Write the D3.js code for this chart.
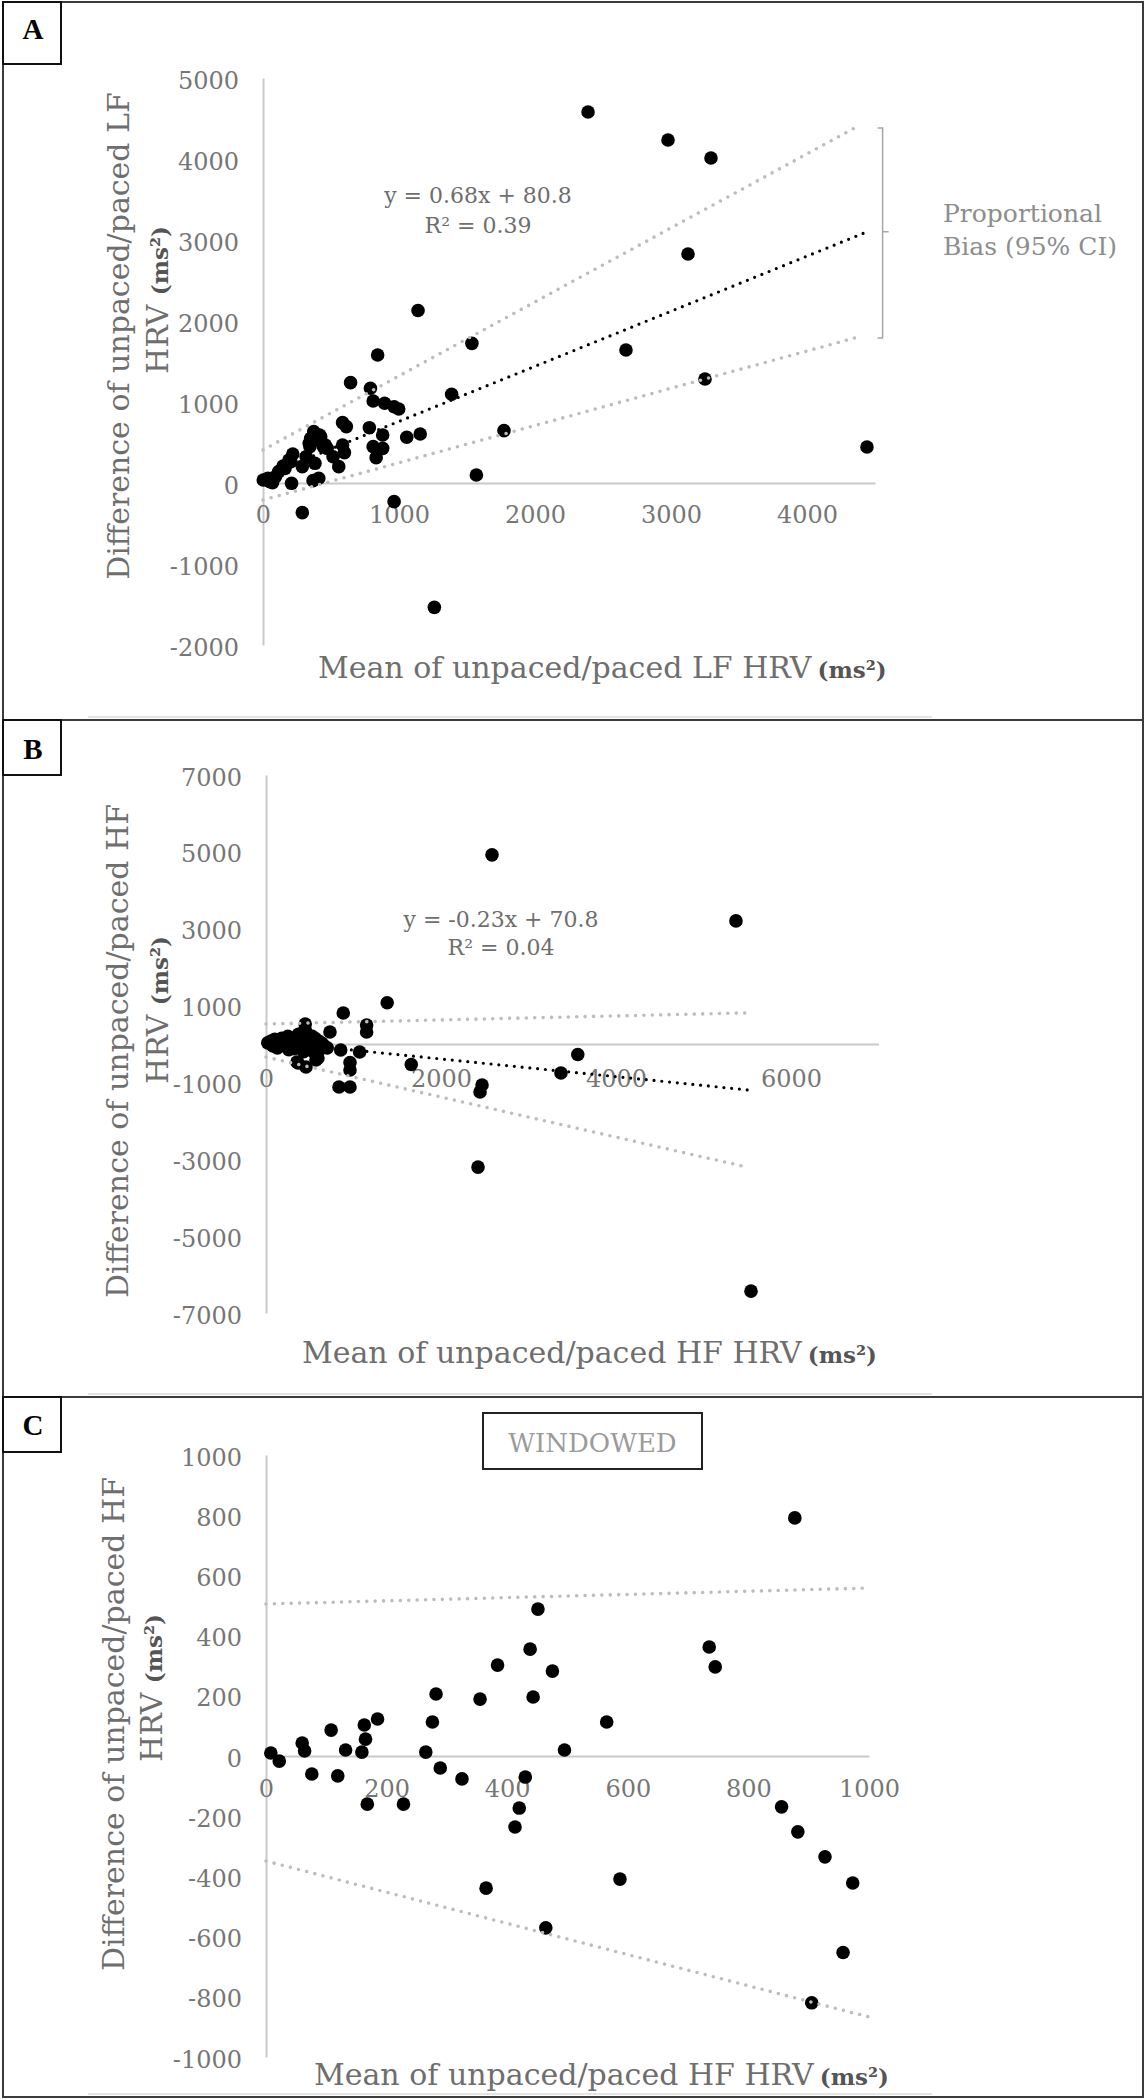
<!DOCTYPE html>
<html>
<head>
<meta charset="utf-8">
<script src="https://cdn.jsdelivr.net/npm/d3@7"></script>
<style>
	html, body { margin: 0; padding: 0; background: #fff; }
	svg { display: block; font-family: 'DejaVu Serif', serif; }
	.tick text { fill: #767676; font-size: 24px; font-family: 'DejaVu Serif', serif; }
	.domain { stroke: #c9c9c9; stroke-width: 2; }
	.title { fill: #6e6e6e; font-size: 30px; }
	.unit { fill: #555; font-size: 23px; font-weight: bold; }
</style>
</head>
<body>
<div id="chart"></div>
<script>
// ---- panel A : LF HRV (unpaced vs paced)
const lfMean = [1536, 843, 644, 790, 810, 894, 964, 998, 1387, 585, 613, 782, 880, 1057, 1156, 373, 351, 402, 345, 444,
	585, 599, 515, 557, 810, 880, 832, 219, 191, 148, 289, 382, 115, 36, 2, 70, 210, 368, 410, 289,
	964, 1260, 1569, 1772, 1140, 2390, 2978, 3294, 3125, 2669, 3250, 4441, 317, 416, 472, 205, 162, 92, 50, 424, 458, 340];
const lfDiff = [1724, 1580, 1239, 1169, 1012, 984, 942, 914, 1095, 745, 696, 683, 593, 564, 605, 634, 552, 531, 449, 449,
	469, 375, 325, 202, 449, 428, 313, 358, 284, 210, 202, 243, 140, 58, 37, 4, -4, 29, 58, -366,
	-230, -1535, 99, 646, 2130, 4580, 4235, 4012, 2827, 1642, 1284, 444, 325, 593, 428, 264, 181, 78, 17, 572, 469, 490];
const lfTrend = [0.68, 80.8];
const lfUpper = [[0, 408], [4350, 4383]];
const lfLower = [[0, -210], [4350, 1790]];
const lfXTicks = [0, 1000, 2000, 3000, 4000];
const lfYTicks = [-2000, -1000, 0, 1000, 2000, 3000, 4000, 5000];

// ---- panel B : HF HRV
const hfMean = [2583, 5371, 5543, 2423, 2469, 2446, 3371, 3563, 1385, 883, 731, 1150, 1150, 1660, 854, 1070, 960, 834, 960, 960,
	448, 594, 366, 571, 457, 354, 20, 60, 100, 150, 180, 220, 250, 300, 330, 370, 400, 420, 450, 480,
	520, 560, 600, 640, 80, 130, 200, 260, 320, 380, 430, 500, 560, 610, 660, 700];
const hfDiff = [4922, 3203, -6432, -3203, -1068, -1250, -755, -273, 1073, 807, 312, 312, 495, -534, -156, -208, -480, -1120, -1120, -677,
	521, -365, -495, -417, -599, -469, 30, 80, 120, 60, 150, 100, 200, 150, 50, 250, 180, 300, 350, 100,
	210, 150, 80, 20, -50, -100, -30, -150, -120, -60, -200, -80, -250, -150, -40, -100];
const hfTrend = [-0.23, 70.8];
const hfUpper = [[0, 521], [5480, 809]];
const hfLower = [[0, -339], [5480, -3194]];
const hfXTicks = [0, 2000, 4000, 6000];
const hfYTicks = [-7000, -5000, -3000, -1000, 1000, 3000, 5000, 7000];

// ---- panel C : HF HRV, windowed
const winMean = [451, 438, 384, 475, 877, 735, 745, 8, 22, 60, 64, 76, 108, 119, 132, 159, 163, 165, 185, 168,
	228, 265, 276, 282, 289, 325, 355, 430, 443, 420, 413, 365, 464, 495, 565, 587, 855, 882, 927, 973, 957, 905];
const winDiff = [488, 355, 302, 282, 791, 362, 296, 10, -17, 43, 17, -60, 86, -66, 20, 13, 103, 56, 123, -160,
	-160, 13, 113, 206, -40, -76, 189, -70, 196, -173, -236, -439, -571, 20, 113, -409, -169, -252, -335, -422, -653, -820];
const winUpper = [[0, 505], [1000, 558]];
const winLower = [[0, -349], [1000, -867]];
const winXTicks = [0, 200, 400, 600, 800, 1000];
const winYTicks = [-1000, -800, -600, -400, -200, 0, 200, 400, 600, 800, 1000];

const panels = [
	{
		id: 'A', top: 2, bottom: 720, letterY: 39, boxH: 62,
		mean: lfMean, diff: lfDiff, trend: lfTrend, upper: lfUpper, lower: lfLower,
		xDomain: [0, 4500], xRange: [263, 875], yDomain: [-2000, 5000], yRange: [645, 78],
		xTicks: lfXTicks, yTicks: lfYTicks, xPad: 23,
		yTitle: 'Difference of unpaced/paced LF', yT1: [129, 336], yT2: [168, 300],
		xTitle: 'Mean of unpaced/paced LF HRV', xT: [318, 678],
		eq: ['y = 0.68x + 80.8', 'R² = 0.39'], eqPos: [478, 203, 233]
	},
	{
		id: 'B', top: 720, bottom: 1397, letterY: 759, boxH: 55,
		mean: hfMean, diff: hfDiff, trend: hfTrend, upper: hfUpper, lower: hfLower,
		xDomain: [0, 7000], xRange: [266, 878.5], yDomain: [-7000, 7000], yRange: [1313, 775],
		xTicks: hfXTicks, yTicks: hfYTicks, xPad: 26,
		yTitle: 'Difference of unpaced/paced HF', yT1: [128, 1051], yT2: [168, 1010],
		xTitle: 'Mean of unpaced/paced HF HRV', xT: [302, 1363],
		eq: ['y = -0.23x + 70.8', 'R² = 0.04'], eqPos: [501, 927, 955]
	},
	{
		id: 'C', top: 1397, bottom: 2097, letterY: 1435, boxH: 55,
		mean: winMean, diff: winDiff, trend: null, upper: winUpper, lower: winLower,
		xDomain: [0, 1000], xRange: [266, 869], yDomain: [-1000, 1000], yRange: [2057, 1455],
		xTicks: winXTicks, yTicks: winYTicks, xPad: 24,
		yTitle: 'Difference of unpaced/paced HF', yT1: [124, 1724], yT2: [162, 1688],
		xTitle: 'Mean of unpaced/paced HF HRV', xT: [314, 2085],
		eq: null
	}
];

const svg = d3.select('#chart')
	.append('svg')
	.attr('width', 1146)
	.attr('height', 2100)
	.attr('viewBox', '0 0 1146 2100');

svg.append('rect').attr('width', 1146).attr('height', 2100).attr('fill', '#fff');

const fmt = d => String(d);

function drawPanel(p) {
	const g = svg.append('g').attr('class', 'panel panel-' + p.id);

	const x = d3.scaleLinear().domain(p.xDomain).range(p.xRange);
	const y = d3.scaleLinear().domain(p.yDomain).range(p.yRange);

	// faint chart-area edge, then panel frame
	g.append('line')
		.attr('x1', 88).attr('x2', 932)
		.attr('y1', p.bottom - 3).attr('y2', p.bottom - 3)
		.attr('stroke', '#e4e4e4').attr('stroke-width', 2);

	g.append('rect')
		.attr('x', 3).attr('y', p.top)
		.attr('width', 1140).attr('height', p.bottom - p.top)
		.attr('fill', 'none').attr('stroke', '#3b3b3b').attr('stroke-width', 2);

	// letter box
	g.append('rect')
		.attr('x', 3).attr('y', p.top)
		.attr('width', 58).attr('height', p.boxH)
		.attr('fill', '#fff').attr('stroke', '#111').attr('stroke-width', 2);
	g.append('text')
		.attr('x', 33).attr('y', p.letterY)
		.attr('text-anchor', 'middle')
		.style('font-family', "'Liberation Serif', serif")
		.style('font-weight', 'bold')
		.style('font-size', '29px')
		.attr('fill', '#000')
		.text(p.id);

	// axes
	g.append('g')
		.attr('class', 'axis y')
		.attr('transform', `translate(${x(0)},0)`)
		.call(d3.axisLeft(y).tickValues(p.yTicks).tickSize(0).tickSizeOuter(0).tickPadding(24).tickFormat(fmt))
		.selectAll('.tick text').attr('dy', '0.42em');

	g.append('g')
		.attr('class', 'axis x')
		.attr('transform', `translate(0,${y(0)})`)
		.call(d3.axisBottom(x).tickValues(p.xTicks).tickSize(0).tickSizeOuter(0).tickPadding(p.xPad).tickFormat(fmt));

	// points
	g.append('g')
		.selectAll('circle')
		.data(d3.zip(p.mean, p.diff))
		.enter()
		.append('circle')
		.attr('cx', d => x(d[0]))
		.attr('cy', d => y(d[1]))
		.attr('r', 6.8)
		.attr('fill', '#000');

	const line = d3.line().x(d => x(d[0])).y(d => y(d[1]));

	// 95% CI lines
	[p.upper, p.lower].forEach(seg => {
		g.append('path')
			.attr('d', line(seg))
			.attr('fill', 'none')
			.attr('stroke', '#bdbdbd')
			.attr('stroke-width', 3.6)
			.attr('stroke-linecap', 'round')
			.attr('stroke-dasharray', '0 8.4');
	});

	// trendline
	if(p.trend) {
		const xMax = d3.max(p.mean);
		const seg = [[0, p.trend[1]], [xMax, p.trend[0] * xMax + p.trend[1]]];
		g.append('path')
			.attr('d', line(seg))
			.attr('fill', 'none')
			.attr('stroke', '#000')
			.attr('stroke-width', 3.2)
			.attr('stroke-linecap', 'round')
			.attr('stroke-dasharray', '0 7.8');
	}

	// equation
	if(p.eq) {
		p.eq.forEach((t, i) => {
			g.append('text')
				.attr('x', p.eqPos[0]).attr('y', p.eqPos[1 + i])
				.attr('text-anchor', 'middle')
				.attr('fill', '#6e6e6e')
				.style('font-size', '22px')
				.text(t);
		});
	}

	// y title (two lines, rotated)
	g.append('text')
		.attr('class', 'title')
		.attr('transform', `translate(${p.yT1[0]},${p.yT1[1]}) rotate(-90)`)
		.attr('text-anchor', 'middle')
		.text(p.yTitle);
	const t2 = g.append('text')
		.attr('class', 'title')
		.attr('transform', `translate(${p.yT2[0]},${p.yT2[1]}) rotate(-90)`)
		.attr('text-anchor', 'middle');
	t2.append('tspan').text('HRV ');
	t2.append('tspan').attr('class', 'unit').text('(ms²)');

	// x title
	const xt = g.append('text')
		.attr('class', 'title')
		.attr('x', p.xT[0]).attr('y', p.xT[1]);
	xt.append('tspan').text(p.xTitle);
	xt.append('tspan').attr('class', 'unit').attr('dx', 6).text('(ms²)');

	return { g, x, y };
}

const [pa, pb, pc] = panels.map(drawPanel);

// proportional bias bracket on A
(function() {
	const bx = pa.x(lfUpper[1][0]) + 28;
	const yTop = pa.y(lfUpper[1][1]);
	const yBot = pa.y(lfLower[1][1]);
	const xMax = d3.max(lfMean);
	const yMid = pa.y(lfTrend[0] * xMax + lfTrend[1]);
	pa.g.append('path')
		.attr('d', `M${bx - 5},${yTop}H${bx}V${yBot}H${bx - 5}M${bx},${yMid}H${bx + 6}`)
		.attr('fill', 'none')
		.attr('stroke', '#a6a6a6')
		.attr('stroke-width', 1.5);
	const lab = pa.g.append('text')
		.attr('fill', '#8d8d8d')
		.style('font-size', '25px');
	lab.append('tspan').attr('x', 943).attr('y', 222).text('Proportional');
	lab.append('tspan').attr('x', 943).attr('y', 255).text('Bias (95% CI)');
})();

// WINDOWED tag on C
pc.g.append('rect')
	.attr('x', 483).attr('y', 1413)
	.attr('width', 219).attr('height', 56)
	.attr('fill', '#fff').attr('stroke', '#222').attr('stroke-width', 2);
pc.g.append('text')
	.attr('x', 592.5).attr('y', 1452)
	.attr('text-anchor', 'middle')
	.attr('fill', '#9b9b9b')
	.style('font-size', '26px')
	.text('WINDOWED');
</script>
</body>
</html>
